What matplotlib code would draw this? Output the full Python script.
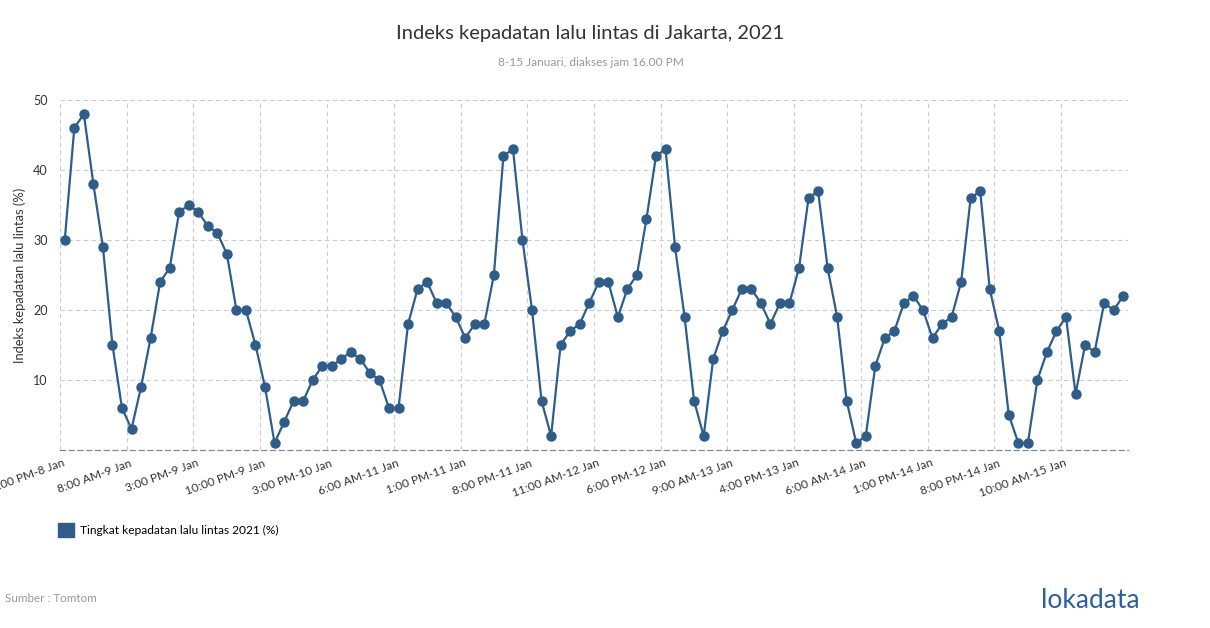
import matplotlib.pyplot as plt, numpy as np
from matplotlib.patches import Patch

# data
values = [30, 46, 48, 38, 29, 15, 6, 3, 9, 16, 24, 26, 34, 35, 34, 32, 31, 28, 20, 20,
          15, 9, 1, 4, 7, 7, 10, 12, 12, 13, 14, 13, 11, 10, 6, 6, 18, 23, 24, 21, 21, 19, 16, 18, 18,
          25, 42, 43, 30, 20, 7, 2, 15, 17, 18, 21, 24, 24, 19, 23, 25, 33, 42, 43, 29, 19, 7, 2, 13, 17, 20,
          23, 23, 21, 18, 21, 21, 26, 36, 37, 26, 19, 7, 1, 2, 12, 16, 17, 21, 22, 20, 16, 18, 19, 24, 36,
          37, 23, 17, 5, 1, 1, 10, 14, 17, 19, 8, 15, 14, 21, 20, 22]
tick_labels = ['1:00 PM-8 Jan', '8:00 AM-9 Jan', '3:00 PM-9 Jan', '10:00 PM-9 Jan', '3:00 PM-10 Jan',
               '6:00 AM-11 Jan', '1:00 PM-11 Jan', '8:00 PM-11 Jan', '11:00 AM-12 Jan', '6:00 PM-12 Jan',
               '9:00 AM-13 Jan', '4:00 PM-13 Jan', '6:00 AM-14 Jan', '1:00 PM-14 Jan', '8:00 PM-14 Jan',
               '10:00 AM-15 Jan']
y_ticks = [10, 20, 30, 40, 50]
series_name = 'Tingkat kepadatan lalu lintas 2021 (%)'

blue = '#2f5d8a'
plt.rcParams['font.family'] = ['Lato', 'DejaVu Sans']

fig = plt.figure(figsize=(12.1, 6.28), dpi=100)
ax = fig.add_axes([60 / 1210, 1 - 450 / 628, 1068 / 1210, 350 / 628])

x = np.arange(len(values))
ax.plot(x, values, color=blue, lw=1.6, marker='o', ms=6.5, mec=blue, zorder=3)

ax.set_xlim(-0.5, len(values) - 0.5)
ax.set_ylim(0, 50)

# gridlines between categories, labels every 7th point
ax.set_xticks(np.arange(0, len(values), 7))
ax.set_xticklabels(tick_labels)
ax.set_xticks(np.arange(-0.5, len(values), 7), minor=True)
ax.set_yticks(y_ticks)
ax.grid(True, which='minor', axis='x', color='#cccccc', ls=(0, (4, 3)), lw=0.8)
ax.grid(True, which='major', axis='y', color='#cccccc', ls=(0, (4, 3)), lw=0.8)
ax.tick_params(axis='x', which='both', length=0, pad=9, labelsize=8.6, labelcolor='#333333')
ax.tick_params(axis='y', length=0, pad=9, labelsize=9, labelcolor='#333333')
for lab in ax.get_xticklabels():
    lab.set_rotation(20)
    lab.set_ha('right')
    lab.set_va('center')
    lab.set_rotation_mode('anchor')

for s in ['top', 'right', 'left']:
    ax.spines[s].set_visible(False)
ax.spines['bottom'].set_color('#888888')
ax.spines['bottom'].set_linestyle((0, (4, 3)))
ax.spines['bottom'].set_linewidth(0.9)

ax.set_ylabel('Indeks kepadatan lalu lintas (%)', fontsize=9.3, color='#333333', labelpad=5)

fig.text(0.488, 1 - 33 / 628, 'Indeks kepadatan lalu lintas di Jakarta, 2021',
         ha='center', va='center', fontsize=14.5, color='#333333')
fig.text(0.488, 1 - 62 / 628, '8-15 Januari, diakses jam 16.00 PM',
         ha='center', va='center', fontsize=8.6, color='#999999')

fig.legend(handles=[Patch(color=blue, label=series_name)], loc='center left',
           bbox_to_anchor=(58 / 1210, 1 - 530 / 628), frameon=False, fontsize=8.6,
           handlelength=1.3, handleheight=1.3, handletextpad=0.5, borderpad=0, borderaxespad=0)

fig.text(5 / 1210, 1 - 598 / 628, 'Sumber : Tomtom', ha='left', va='center', fontsize=8.4, color='#999999')
fig.text(1140 / 1210, 1 - 600 / 628, 'lokadata', ha='right', va='center', fontsize=19,
         color='#2d5fa5')

fig.savefig('out.png', dpi=100)
